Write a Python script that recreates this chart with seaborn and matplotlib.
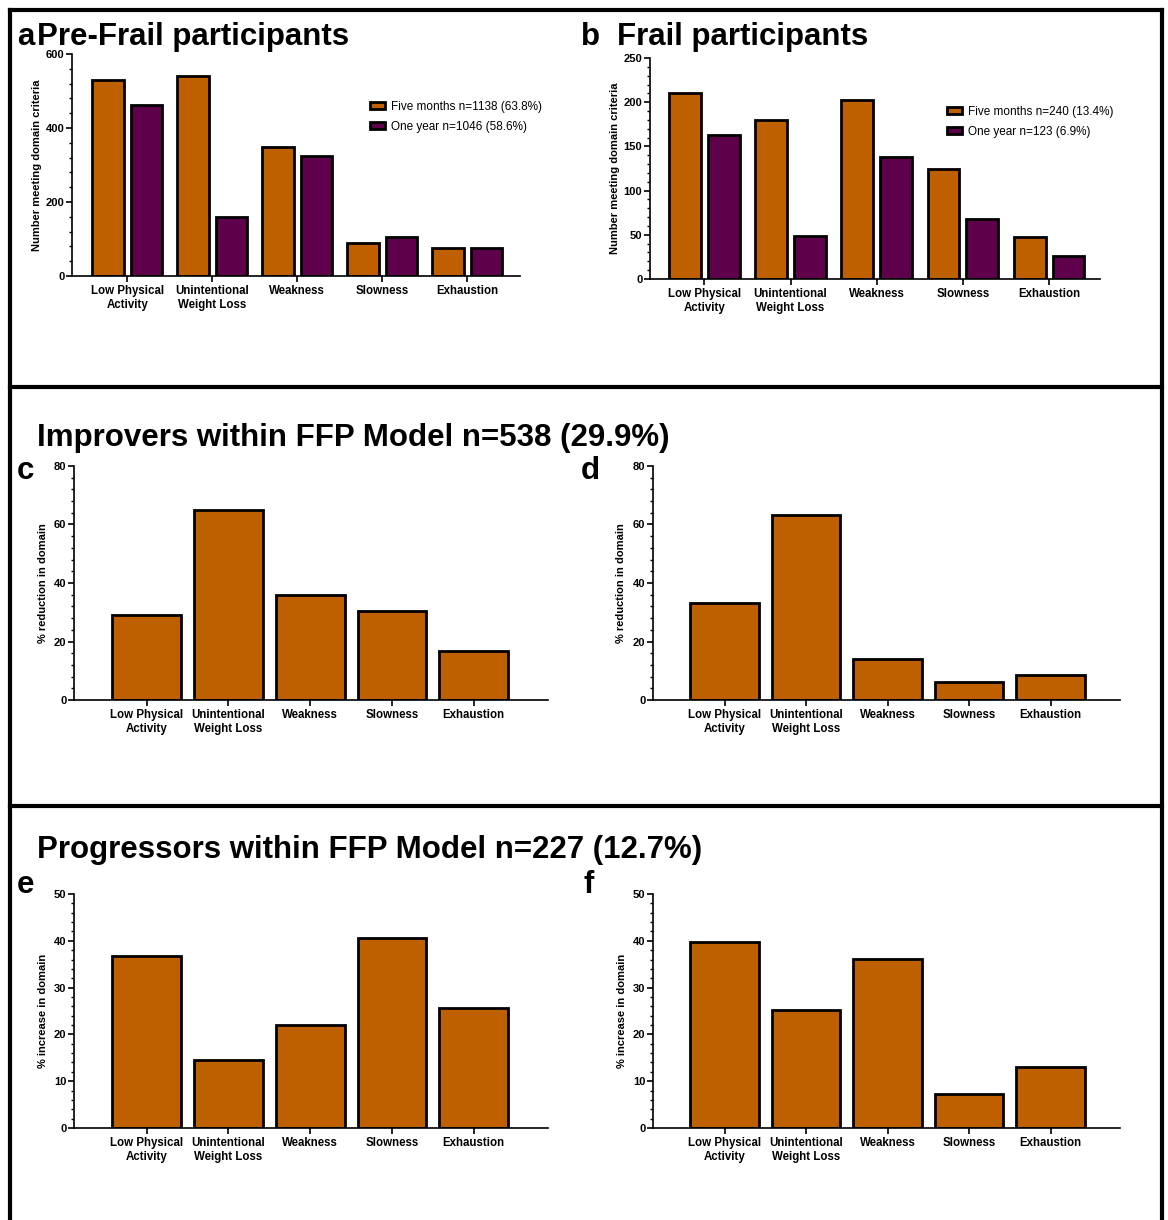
import pandas as pd
import matplotlib
matplotlib.use("Agg")
import matplotlib.pyplot as plt
from matplotlib.lines import Line2D
from matplotlib.ticker import MultipleLocator, AutoMinorLocator
import seaborn as sns

# domains shown on every panel
domains = ["Low Physical\nActivity", "Unintentional\nWeight Loss", "Weakness", "Slowness", "Exhaustion"]

# a / b: number meeting each domain criterion
prefrail_five_months = [530, 541, 348, 89, 75]
prefrail_one_year = [461, 160, 324, 106, 76]
frail_five_months = [210, 180, 203, 125, 48]
frail_one_year = [163, 49, 138, 68, 26]
prefrail_labels = ["Five months n=1138 (63.8%)", "One year n=1046 (58.6%)"]
frail_labels = ["Five months n=240 (13.4%)", "One year n=123 (6.9%)"]

# c / d: % reduction in domain (improvers)
improvers_c = [29.1, 65.0, 36.0, 30.4, 16.7]
improvers_d = [33.3, 63.1, 13.9, 6.2, 8.6]

# e / f: % increase in domain (progressors)
progressors_e = [36.7, 14.6, 22.0, 40.5, 25.7]
progressors_f = [39.7, 25.2, 36.2, 7.2, 13.1]

orange = "#BF6000"
purple = "#5F004B"

sns.set_theme(style="ticks")
plt.rcParams["font.family"] = ["Liberation Sans", "DejaVu Sans"]
plt.rcParams["font.weight"] = "bold"
plt.rcParams["axes.labelweight"] = "bold"
plt.rcParams["axes.linewidth"] = 1.2
for key in ["text.color", "axes.labelcolor", "xtick.color", "ytick.color", "axes.edgecolor"]:
    plt.rcParams[key] = "black"

W, H = 1168, 1220
fig = plt.figure(figsize=(W / 100, H / 100), dpi=100)


def add_axes(left, right, top, bottom):
    return fig.add_axes([left / W, 1 - bottom / H, (right - left) / W, (bottom - top) / H])


def style_axis(ax, ymax, major, xlim, ylabel, label_x):
    ax.set_ylim(0, ymax)
    ax.set_xlim(*xlim)
    ax.yaxis.set_major_locator(MultipleLocator(major))
    ax.yaxis.set_minor_locator(AutoMinorLocator(5))
    sns.despine(ax=ax)
    ax.tick_params(axis="both", which="major", direction="out", length=4, width=1.2,
                   colors="black", labelsize=8, pad=1.5)
    ax.tick_params(axis="y", which="minor", direction="out", length=2.3, width=1.0, colors="black")
    ax.tick_params(axis="x", which="major", pad=2.5, labelsize=8.3)
    for lab in ax.get_xticklabels():
        lab.set_linespacing(1.2)
    ax.set_xlabel("")
    ax.set_ylabel(ylabel, fontsize=8, fontweight="bold")
    ax.yaxis.set_label_coords(label_x, 0.5)


def grouped_panel(ax, five, one, labels, ymax, major, xlim, label_x, leg_xy):
    df = pd.DataFrame({
        "domain": domains * 2,
        "group": [labels[0]] * 5 + [labels[1]] * 5,
        "value": five + one,
    })
    sns.barplot(data=df, x="domain", y="value", hue="group", ax=ax,
                palette={labels[0]: orange, labels[1]: purple},
                width=0.9, gap=0.18, edgecolor="black", linewidth=2, saturation=1)
    style_axis(ax, ymax, major, xlim, "Number meeting domain criteria", label_x)
    ax.legend(loc="upper left", bbox_to_anchor=leg_xy, frameon=False, borderpad=0,
              borderaxespad=0, handlelength=1.3, handleheight=0.6, handletextpad=0.5,
              labelspacing=0.7, prop={"size": 8.5, "weight": "normal"})


def single_panel(ax, values, ymax, major, xlim, ylabel, label_x):
    sns.barplot(x=domains, y=values, ax=ax, color=orange, width=0.84,
                edgecolor="black", linewidth=2, saturation=1)
    style_axis(ax, ymax, major, xlim, ylabel, label_x)


ax_a = add_axes(72, 520, 54, 276)
grouped_panel(ax_a, prefrail_five_months, prefrail_one_year, prefrail_labels,
              600, 200, (-0.65, 4.62), -0.068, (0.665, 0.79))

ax_b = add_axes(650, 1100, 58, 279)
grouped_panel(ax_b, frail_five_months, frail_one_year, frail_labels,
              250, 50, (-0.63, 4.59), -0.066, (0.66, 0.785))

ax_c = add_axes(74, 548, 466, 700)
single_panel(ax_c, improvers_c, 80, 20, (-0.89, 4.91), "% reduction in domain", -0.054)

ax_d = add_axes(653, 1120, 466, 700)
single_panel(ax_d, improvers_d, 80, 20, (-0.88, 4.85), "% reduction in domain", -0.057)

ax_e = add_axes(74, 548, 894, 1128)
single_panel(ax_e, progressors_e, 50, 10, (-0.89, 4.91), "% increase in domain", -0.054)

ax_f = add_axes(653, 1120, 894, 1128)
single_panel(ax_f, progressors_f, 50, 10, (-0.88, 4.85), "% increase in domain", -0.056)

# headings and panel letters (pixel positions -> figure fractions)
def fig_text(x, y, s, size=22.5):
    fig.text(x / W, 1 - y / H, s, fontsize=size, fontweight="bold", va="baseline", ha="left",
             color="black")

fig_text(17, 45, "a")
fig_text(37, 45, "Pre-Frail participants")
fig_text(581, 45, "b")
fig_text(617, 45, "Frail participants")
fig_text(37, 446, "Improvers within FFP Model n=538 (29.9%)")
fig_text(17, 479, "c")
fig_text(581, 479, "d")
fig_text(37, 858, "Progressors within FFP Model n=227 (12.7%)")
fig_text(17, 893, "e")
fig_text(583, 893, "f")

# outer frame and section separators
def frame_line(x0, y0, x1, y1):
    fig.add_artist(Line2D([x0 / W, x1 / W], [1 - y0 / H, 1 - y1 / H],
                          transform=fig.transFigure, color="black", linewidth=3,
                          solid_capstyle="projecting"))

frame_line(9.5, 10, 1161.5, 10)
frame_line(9.5, 10, 9.5, H + 5)
frame_line(1161.5, 10, 1161.5, H + 5)
frame_line(9.5, 387, 1161.5, 387)
frame_line(9.5, 806, 1161.5, 806)

fig.savefig("out.png", dpi=100)
